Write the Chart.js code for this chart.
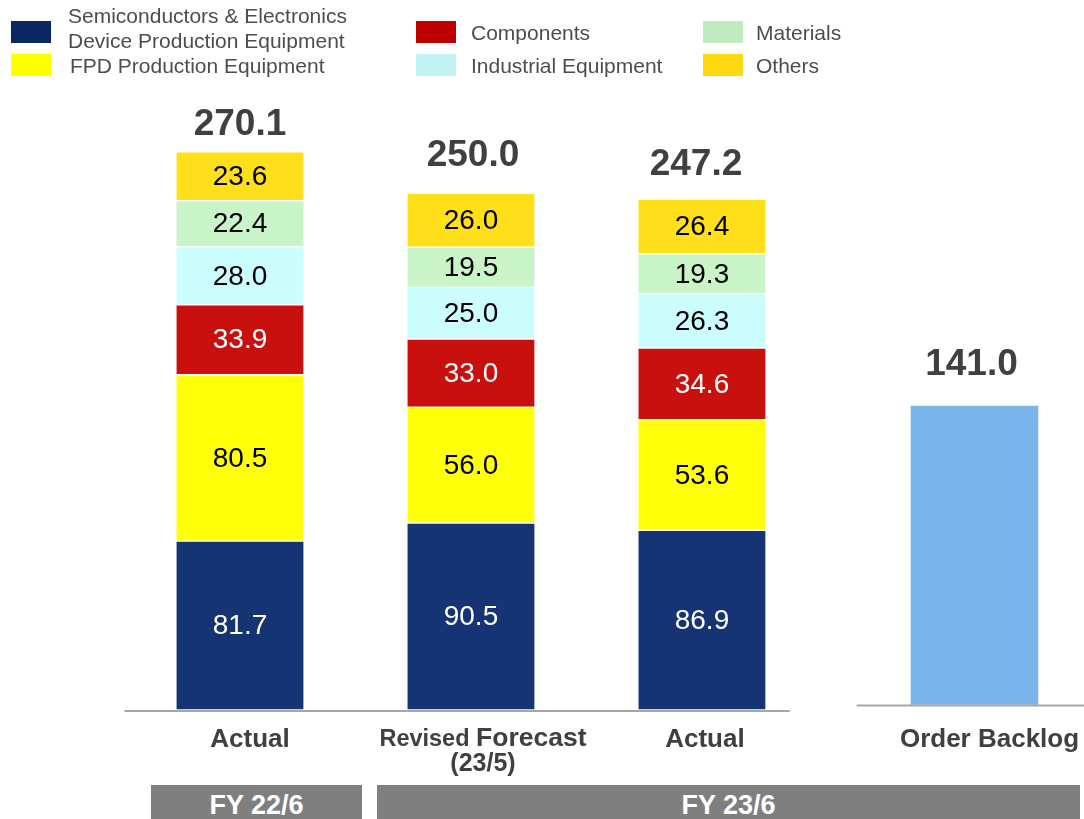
<!DOCTYPE html>
<html>
<head>
<meta charset="utf-8">
<script src="https://cdn.jsdelivr.net/npm/chart.js@4.4.0/dist/chart.umd.min.js"></script>
<style>
  body { margin: 0; background: #fff; font-family: "Liberation Sans", Arial, sans-serif; }
  #wrap { position: relative; width: 1084px; height: 819px; overflow: hidden; }
  canvas { position: absolute; left: 0; top: 0; }
  .lg { position: absolute; font-size: 21px; color: #4d4d4d; line-height: 25px; white-space: nowrap; }
  .sw { position: absolute; width: 40px; height: 22px; }
  .band { position: absolute; top: 785px; height: 34px; background: #7f7f7f; color: #fff;
          font-weight: bold; font-size: 27px; text-align: center; line-height: 40px; overflow: hidden; }
</style>
</head>
<body>
<div id="wrap">
  <canvas id="salesChart" width="1084" height="819"></canvas>

  <div class="sw" style="left:11px;top:21px;background:#0b2763"></div>
  <div class="lg" style="left:68px;top:3px">Semiconductors &amp; Electronics<br>Device Production Equipment</div>
  <div class="sw" style="left:11px;top:54px;background:#ffff00"></div>
  <div class="lg" style="left:70px;top:53px">FPD Production Equipment</div>

  <div class="sw" style="left:416px;top:21px;background:#c00000"></div>
  <div class="lg" style="left:471px;top:20px">Components</div>
  <div class="sw" style="left:416px;top:54px;background:#c3f2f2"></div>
  <div class="lg" style="left:471px;top:53px">Industrial Equipment</div>

  <div class="sw" style="left:703px;top:21px;background:#bfebbf"></div>
  <div class="lg" style="left:756px;top:20px">Materials</div>
  <div class="sw" style="left:703px;top:54px;background:#ffd910"></div>
  <div class="lg" style="left:756px;top:53px">Others</div>

  <div class="band" style="left:151px;width:211px">FY 22/6</div>
  <div class="band" style="left:377px;width:703px">FY 23/6</div>
</div>

<script>
// Net sales by segment (billion yen)
const categories = [['Actual'], ['Revised Forecast', '(23/5)'], ['Actual'], ['Order Backlog']];
const semiconductors = [81.7, 90.5, 86.9];
const fpd = [80.5, 56.0, 53.6];
const components = [33.9, 33.0, 34.6];
const industrial = [28.0, 25.0, 26.3];
const materials = [22.4, 19.5, 19.3];
const others = [23.6, 26.0, 26.4];
const totals = [270.1, 250.0, 247.2];
const backlog = [141.0];

// slot of each column along the x axis (backlog stands a bit apart)
const slots = [0, 1, 2, 3.18];
// label nudges in px: category text, total text (dx) and gap above bar
const catDx = [10, 12, 3, 15];
const totalDx = [0, 2, -6, -3];
const totalGap = [17, 27, 24, 31];

const FONT = '"Liberation Sans", Arial, sans-serif';

function pts(values, offset) {
    return values.map((v, i) => ({ x: slots[i + (offset || 0)], y: v }));
}

function seg(label, values, color, textColor) {
    return {
        label: label,
        data: pts(values),
        backgroundColor: color,
        borderColor: '#ffffff',
        borderWidth: { top: 1, bottom: 1, left: 0, right: 0 },
        borderSkipped: false,
        textColor: textColor,
        stack: 'sales',
        yAxisID: 'y'
    };
}

const datasets = [
    seg('Semiconductors & Electronics Device Production Equipment', semiconductors, '#163473', '#ffffff'),
    seg('FPD Production Equipment', fpd, '#ffff0a', '#000000'),
    seg('Components', components, '#c8100f', '#ffffff'),
    seg('Industrial Equipment', industrial, '#ccfdfd', '#000000'),
    seg('Materials', materials, '#c8f4c8', '#000000'),
    seg('Others', others, '#ffdf1a', '#000000'),
    {
        label: 'Order Backlog',
        data: pts(backlog, 3),
        backgroundColor: '#7ab4ea',
        borderWidth: 0,
        stack: 'backlog',
        yAxisID: 'y2',
        noValue: true
    }
];

const labelsPlugin = {
    id: 'labelsPlugin',
    afterDatasetsDraw(chart) {
        const ctx = chart.ctx;
        const xs = chart.scales.x;
        const area = chart.chartArea;
        ctx.save();
        ctx.textAlign = 'center';

        // axis lines
        ctx.strokeStyle = '#a6a6a6';
        ctx.lineWidth = 2;
        const y0 = chart.scales.y.getPixelForValue(0) + 1;
        ctx.beginPath();
        ctx.moveTo(xs.getPixelForValue(-0.5), y0);
        ctx.lineTo(xs.getPixelForValue(2.38), y0);
        ctx.stroke();
        const y20 = chart.scales.y2.getPixelForValue(0) + 1;
        ctx.beginPath();
        ctx.moveTo(xs.getPixelForValue(2.67), y20);
        ctx.lineTo(area.right, y20);
        ctx.stroke();

        // segment values
        ctx.textBaseline = 'middle';
        ctx.font = '28px ' + FONT;
        chart.data.datasets.forEach((ds, di) => {
            if (ds.noValue) return;
            chart.getDatasetMeta(di).data.forEach((el, i) => {
                ctx.fillStyle = ds.textColor;
                ctx.fillText(ds.data[i].y.toFixed(1), el.x, (el.y + el.base) / 2 + 1);
            });
        });

        // totals above each column
        ctx.textBaseline = 'alphabetic';
        ctx.font = 'bold 37px ' + FONT;
        ctx.fillStyle = '#404040';
        const topMeta = chart.getDatasetMeta(5);
        totals.forEach((t, i) => {
            const el = topMeta.data[i];
            ctx.fillText(t.toFixed(1), el.x + totalDx[i], el.y - totalGap[i]);
        });
        const bl = chart.getDatasetMeta(6).data[0];
        ctx.fillText(backlog[0].toFixed(1), bl.x + totalDx[3], bl.y - totalGap[3]);

        // category labels
        categories.forEach((lines, i) => {
            const x = xs.getPixelForValue(slots[i]) + catDx[i];
            if (lines.length === 1) {
                ctx.textAlign = 'center';
                ctx.font = 'bold 26px ' + FONT;
                ctx.fillText(lines[0], x, area.bottom + 37);
            } else {
                // first word set a little smaller than the rest
                const words = lines[0].split(' ');
                const first = words[0] + ' ';
                const rest = words.slice(1).join(' ');
                ctx.font = 'bold 23.5px ' + FONT;
                const w1 = ctx.measureText(first).width;
                ctx.font = 'bold 26.5px ' + FONT;
                const w2 = ctx.measureText(rest).width;
                const left = x - (w1 + w2) / 2;
                ctx.textAlign = 'left';
                ctx.font = 'bold 23.5px ' + FONT;
                ctx.fillText(first, left, area.bottom + 36);
                ctx.font = 'bold 26.5px ' + FONT;
                ctx.fillText(rest, left + w1, area.bottom + 36);
                ctx.textAlign = 'center';
                ctx.font = 'bold 25px ' + FONT;
                ctx.fillText(lines[1], x, area.bottom + 61);
            }
        });
        ctx.restore();
    }
};

new Chart(document.getElementById('salesChart').getContext('2d'), {
    type: 'bar',
    data: { datasets: datasets },
    options: {
        responsive: false,
        animation: false,
        grouped: false,
        layout: { padding: { top: 90, bottom: 109, left: 0, right: 0 } },
        plugins: { legend: { display: false }, tooltip: { enabled: false } },
        barThickness: 127,
        scales: {
            x: { type: 'linear', min: -1.039, max: 3.654, offset: false, stacked: true, display: false },
            y: { stacked: true, min: 0, max: 300, display: false },
            y2: { stacked: true, min: -2.6, max: 290.3, display: false }
        }
    },
    plugins: [labelsPlugin]
});
</script>
</body>
</html>
